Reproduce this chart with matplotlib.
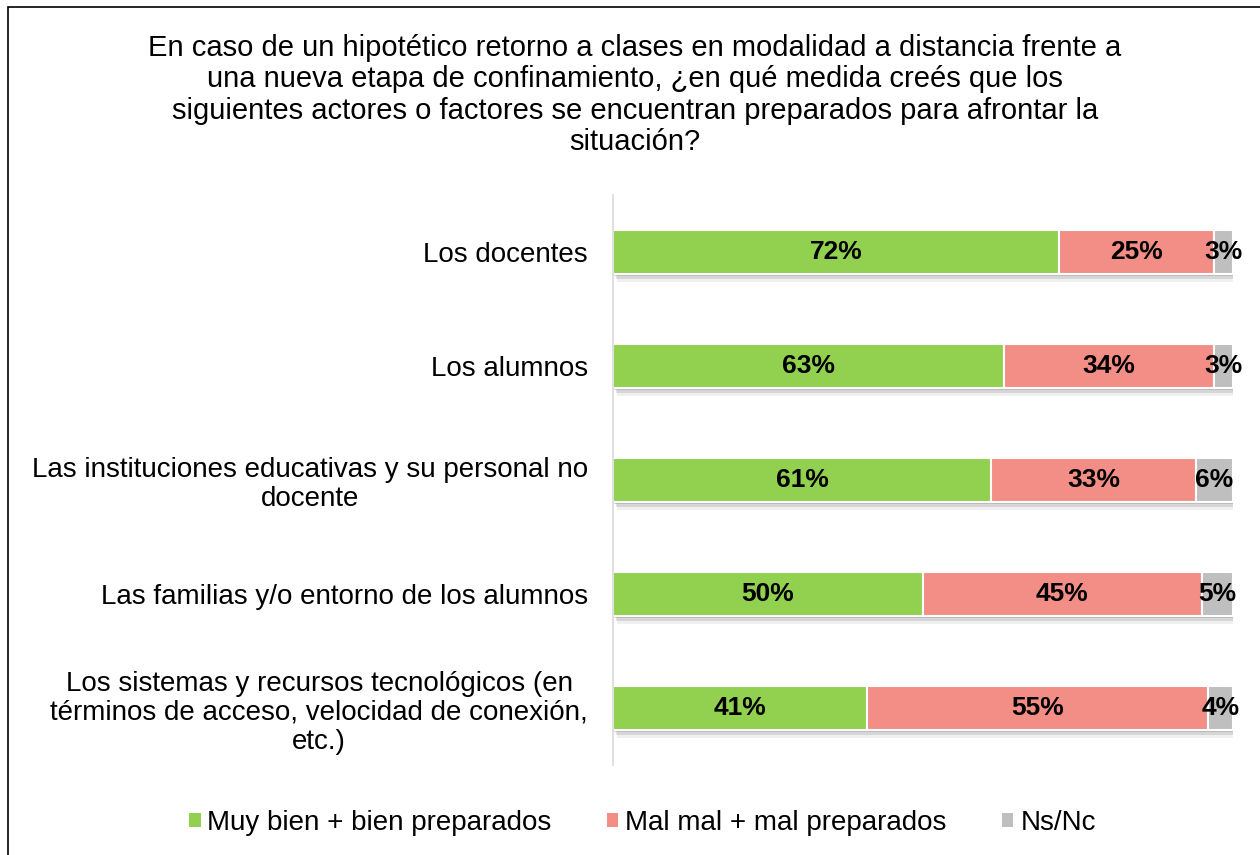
import numpy as np
import matplotlib.pyplot as plt
import matplotlib.patheffects as pe
from matplotlib.patches import Rectangle

plt.rcParams['font.family'] = ['Liberation Sans', 'DejaVu Sans']

# Datos
categorias = [
    "Los docentes",
    "Los alumnos",
    "Las instituciones educativas y su personal no\ndocente",
    "Las familias y/o entorno de los alumnos",
    "Los sistemas y recursos tecnológicos (en\ntérminos de acceso, velocidad de conexión,\netc.)",
]
bien = [72, 63, 61, 50, 41]
mal = [25, 34, 33, 45, 55]
nsnc = [3, 3, 6, 5, 4]
series = ["Muy bien + bien preparados", "Mal mal + mal preparados", "Ns/Nc"]
colores = ["#92D050", "#F28E86", "#BFBFBF"]

titulo = ("En caso de un hipotético retorno a clases en modalidad a distancia frente a\n"
          "una nueva etapa de confinamiento, ¿en qué medida creés que los\n"
          "siguientes actores o factores se encuentran preparados para afrontar la\n"
          "situación?")

fig = plt.figure(figsize=(12.6, 8.55), dpi=100)
ax = fig.add_axes([613/1260, 1-765/855, 620/1260, 570/855])

y = np.arange(len(categorias))
# sombra difusa bajo las barras
sombra = [pe.SimplePatchShadow(offset=(3, -6), alpha=0.08, shadow_rgbFace='#444444'),
          pe.SimplePatchShadow(offset=(2, -4), alpha=0.15, shadow_rgbFace='#444444'),
          pe.SimplePatchShadow(offset=(1, -2), alpha=0.2, shadow_rgbFace='#444444'),
          pe.Normal()]
izq = np.zeros(len(categorias))
for vals, nombre, col in zip([bien, mal, nsnc], series, colores):
    barras = ax.barh(y, vals, left=izq, height=0.38, color=col, edgecolor='white',
                     linewidth=1.5, label=nombre, path_effects=sombra)
    for b, v in zip(barras, vals):
        ax.text(b.get_x() + b.get_width()/2, b.get_y() + b.get_height()/2, f"{v}%",
                ha='center', va='center', fontsize=19, fontweight='bold')
    izq += np.array(vals)

ax.set_xlim(0, 100)
ax.set_ylim(4.5, -0.5)
ax.set_yticks(y)
ax.set_yticklabels(categorias, fontsize=20, multialignment='center', linespacing=1.15)
ax.tick_params(axis='y', length=0, pad=18)
ax.set_xticks([])
for s in ['top', 'right', 'bottom']:
    ax.spines[s].set_visible(False)
ax.spines['left'].set_color('#D9D9D9')
ax.spines['left'].set_linewidth(1.2)

fig.text(0.504, 1-95/855, titulo, ha='center', va='center', fontsize=21, linespacing=1.14)

handles, labels = ax.get_legend_handles_labels()
leg = fig.legend(handles, labels, loc='center', bbox_to_anchor=(0.51, 1-823/855), ncol=3,
                 frameon=False, fontsize=20, handlelength=0.4, handleheight=0.4,
                 handletextpad=0.25, columnspacing=2.0)
for h in leg.legend_handles:
    h.set_path_effects([])
    h.set_edgecolor('none')

# marco exterior
fig.patches.append(Rectangle((8/1260, -0.05), 1.2, 1.05 - 7/855, transform=fig.transFigure,
                             fill=False, edgecolor='black', linewidth=1.2))

fig.savefig("out.png", dpi=100)
